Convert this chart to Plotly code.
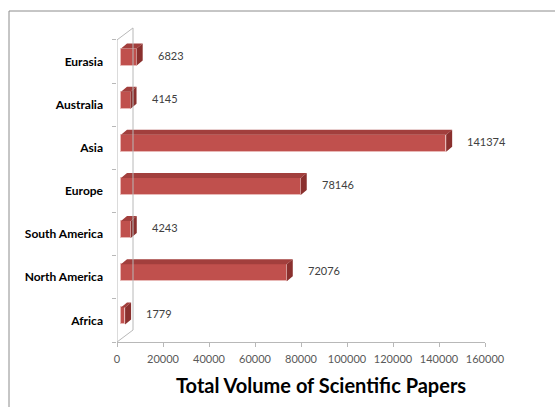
import plotly.graph_objects as go

# Regions and paper counts (bottom to top on the axis)
regions = ["Africa", "North America", "South America", "Europe", "Asia", "Australia", "Eurasia"]
papers = [1779, 72076, 4243, 78146, 141374, 4145, 6823]
x_ticks = [0, 20000, 40000, 60000, 80000, 100000, 120000, 140000, 160000]

# Pixel geometry of the plot area
W, H = 555, 407
ML, MR, MT, MB = 117, 70, 27, 65
X_MAX = 160000
Y_LO, Y_HI = -0.5, 6.8
PW, PH = W - ML - MR, H - MT - MB
px_x = X_MAX / PW                # data units per pixel (x)
px_y = (Y_HI - Y_LO) / PH        # category units per pixel (y)

# 3D look: front face offset, bar half-height, bar depth, wall depth
x0 = 4 * px_x
lift = 4.5 * px_y
half = 8.5 * px_y
ddx, ddy = 6 * px_x, 5 * px_y
wall_dx, wall_dy = 16 * px_x, 12 * px_y

FRONT = "#C0504D"
TOP = "#A23F3D"
SIDE = "#8A302E"

ypos = list(range(len(regions)))

fig = go.Figure()

# top and side faces of each bar
top_x, top_y, side_x, side_y = [], [], [], []
for c, v in zip(ypos, papers):
    yt = c + lift + half
    yb = c + lift - half
    xe = x0 + v
    top_x += [x0, xe, xe + ddx, x0 + ddx, x0, None]
    top_y += [yt, yt, yt + ddy, yt + ddy, yt, None]
    side_x += [xe, xe, xe + ddx, xe + ddx, xe, None]
    side_y += [yb, yt, yt + ddy, yb + ddy, yb, None]

fig.add_trace(go.Scatter(x=top_x, y=top_y, fill="toself", fillcolor=TOP,
                         mode="lines", line=dict(width=0), hoverinfo="skip"))
fig.add_trace(go.Scatter(x=side_x, y=side_y, fill="toself", fillcolor=SIDE,
                         mode="lines", line=dict(width=0), hoverinfo="skip"))

# front faces
fig.add_trace(go.Bar(
    y=[c + lift for c in ypos], x=papers, base=x0, orientation="h",
    width=2 * half, marker=dict(color=FRONT, line=dict(color="#E8B8B6", width=1)),
    hoverinfo="skip",
))

# value labels, a little to the right of each bar
annotations = [
    dict(x=x0 + v, y=c + lift + 2 * px_y, xref="x", yref="y", text=str(v),
         showarrow=False, xanchor="left", yanchor="middle", xshift=19,
         font=dict(family="Lato", size=11, color="#404040"))
    for c, v in zip(ypos, papers)
]
# chart title below the axis
annotations.append(dict(
    x=(321 - ML) / PW, y=-(385 - (H - MB)) / PH, xref="paper", yref="paper",
    text="<b>Total Volume of Scientific Papers</b>", showarrow=False,
    xanchor="center", yanchor="middle",
    font=dict(family="Lato", size=20, color="black"),
))

GRID = "#B8B8B8"
shapes = [
    # front vertical axis
    dict(type="line", xref="x", yref="y", x0=0, x1=0, y0=Y_LO, y1=6.5,
         line=dict(color=GRID, width=1)),
    # back wall edges
    dict(type="line", xref="x", yref="y", x0=0, x1=wall_dx, y0=6.5, y1=6.5 + wall_dy,
         line=dict(color=GRID, width=1)),
    dict(type="line", xref="x", yref="y", x0=wall_dx, x1=wall_dx, y0=Y_LO + wall_dy,
         y1=6.5 + wall_dy, line=dict(color=GRID, width=1)),
    dict(type="line", xref="x", yref="y", x0=0, x1=wall_dx, y0=Y_LO, y1=Y_LO + wall_dy,
         line=dict(color=GRID, width=1)),
    # outer chart frame
    dict(type="rect", xref="paper", yref="paper",
         x0=(9 - ML) / PW, x1=(W + 5 - ML) / PW,
         y0=-(MB + 5) / PH, y1=(H - MB - 11) / PH,
         line=dict(color="#8C8C8C", width=1)),
]

fig.update_layout(
    width=W, height=H, margin=dict(l=ML, r=MR, t=MT, b=MB),
    paper_bgcolor="white", plot_bgcolor="white", showlegend=False,
    bargap=0, shapes=shapes, annotations=annotations,
    xaxis=dict(range=[0, X_MAX], tickvals=x_ticks, ticktext=[str(t) for t in x_ticks],
               showgrid=False, zeroline=False, showline=True, linecolor=GRID,
               ticks="outside", ticklen=4, tickcolor=GRID, ticklabelstandoff=3,
               tickfont=dict(family="Lato", size=11, color="#595959")),
    yaxis=dict(range=[Y_LO, Y_HI], tickvals=ypos, ticktext=[f"<b>{r}</b>" for r in regions],
               showgrid=False, zeroline=False, showline=False, ticks="",
               ticklabelstandoff=13,
               tickfont=dict(family="Lato", size=12, color="black"),
               minor=dict(ticks="outside", tick0=-0.5, dtick=1, ticklen=4,
                          tickcolor=GRID, showgrid=False)),
)

fig.write_html("out.html")
